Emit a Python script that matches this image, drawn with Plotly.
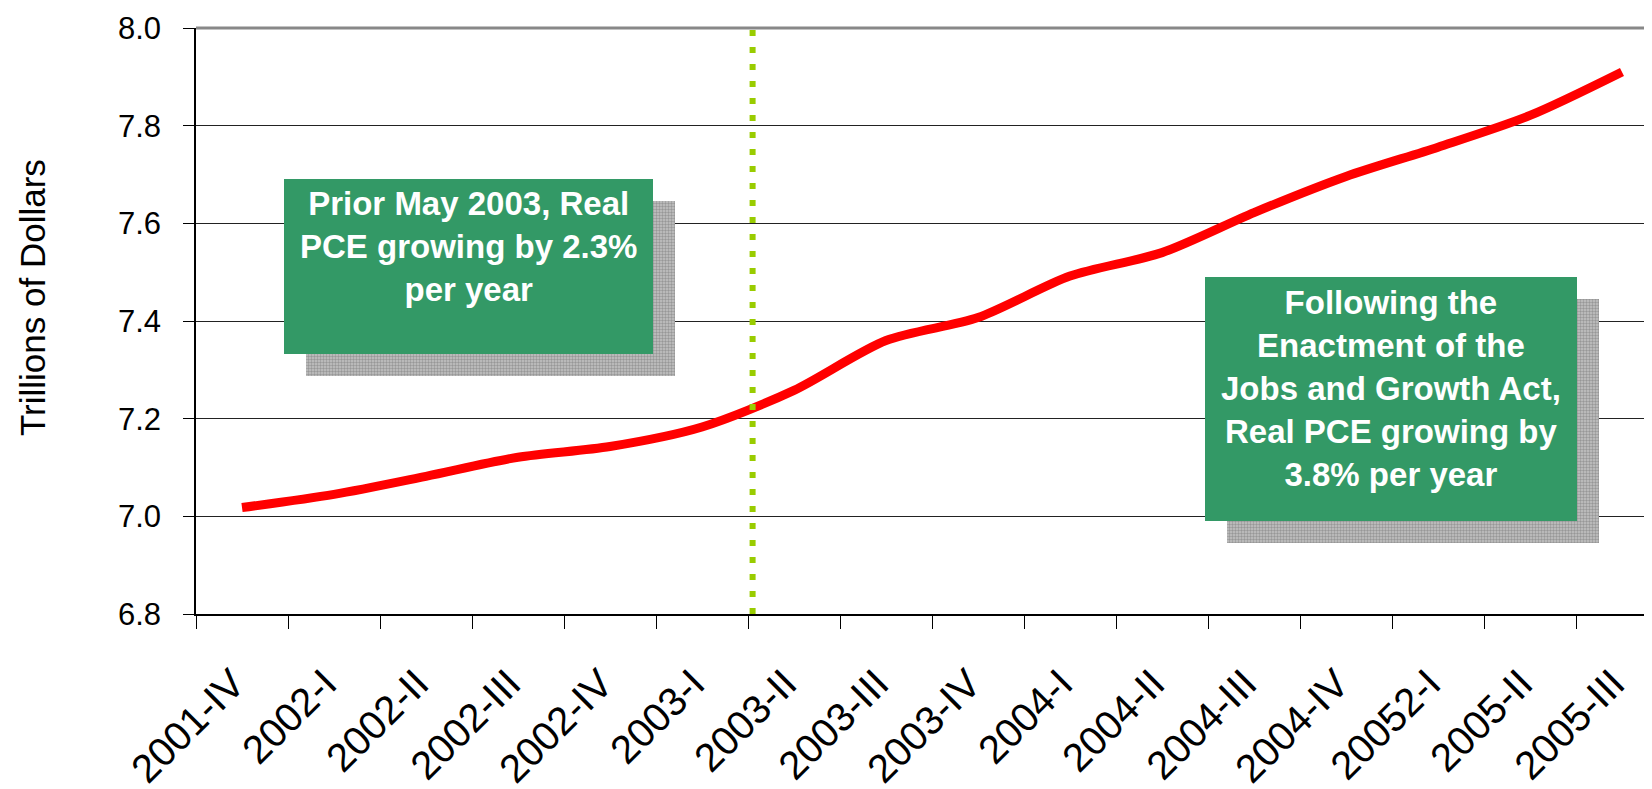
import plotly.graph_objects as go

# Real PCE, trillions of dollars, by quarter
quarters = [
    "2001-IV", "2002-I", "2002-II", "2002-III", "2002-IV", "2003-I",
    "2003-II", "2003-III", "2003-IV", "2004-I", "2004-II", "2004-III",
    "2004-IV", "20052-I", "2005-II", "2005-III",
]
pce = [
    7.018, 7.045, 7.082, 7.121, 7.143, 7.183,
    7.258, 7.360, 7.407, 7.492, 7.540, 7.622,
    7.696, 7.756, 7.821, 7.910,
]
y_ticks = [6.8, 7.0, 7.2, 7.4, 7.6, 7.8, 8.0]

note_before = "Prior May 2003, Real<br>PCE growing by 2.3%<br>per year"
note_after = ("Following the<br>Enactment of the<br>Jobs and Growth Act,"
              "<br>Real PCE growing by<br>3.8% per year")

W, H = 1652, 789
OFF = 8  # the page body adds an 8px margin around the figure
L, T, B = 196, 28, 614  # plot area in window pixels
FONT = "Arial, Liberation Sans, sans-serif"
GREEN = "#339966"


def px(x):
    return (x - L) / (W - L)


def py(y):
    return (B - y) / (B - T)


boxes = [(284, 179, 653, 354), (1205, 277, 1577, 521)]

fig = go.Figure()
fig.add_trace(
    go.Scatter(
        x=quarters,
        y=pce,
        mode="lines",
        line=dict(color="#ff0000", width=9, shape="spline", smoothing=0.8),
        showlegend=False,
        hoverinfo="skip",
    )
)

# stippled shadows behind the note boxes, drawn on a hidden 0-1 overlay
for (x0, y0, x1, y1) in boxes:
    sx0, sx1 = px(x0 + 22), px(x1 + 22)
    sy0, sy1 = py(y1 + 22), py(y0 + 22)
    fig.add_trace(
        go.Scatter(
            x=[sx0, sx1, sx1, sx0, sx0],
            y=[sy0, sy0, sy1, sy1, sy0],
            xaxis="x2",
            yaxis="y2",
            mode="lines",
            line=dict(width=0, color="#a0a0a0"),
            fill="toself",
            fillcolor="#b0b0b0",
            fillpattern=dict(shape=".", fgcolor="#6a6a6a", bgcolor="#c4c4c4",
                             size=3, solidity=0.5),
            showlegend=False,
            hoverinfo="skip",
        )
    )

shapes = []
for (x0, y0, x1, y1) in boxes:
    shapes.append(dict(type="rect", xref="paper", yref="paper",
                       x0=px(x0), x1=px(x1), y0=py(y1), y1=py(y0),
                       fillcolor=GREEN, line=dict(width=0), layer="above"))
# top border of the plot area
shapes.append(dict(type="line", xref="paper", yref="paper", x0=0, x1=1, y0=1, y1=1,
                   line=dict(color="#888888", width=3)))
# May 2003 marker
shapes.append(dict(type="line", xref="x", yref="paper", x0=5.55, x1=5.55, y0=0, y1=1,
                   line=dict(color="#99cc00", width=6, dash="6px,11px"), layer="above"))

fig.update_layout(
    width=W - OFF,
    height=H - OFF,
    margin=dict(l=L - OFF, r=0, t=T - OFF, b=H - B, autoexpand=False),
    paper_bgcolor="white",
    plot_bgcolor="white",
    font=dict(family=FONT, color="black"),
    shapes=shapes,
    xaxis2=dict(overlaying="x", range=[0, 1], visible=False, fixedrange=True),
    yaxis2=dict(overlaying="y", range=[0, 1], visible=False, fixedrange=True),
    annotations=[
        dict(text="<b>" + note_before + "</b>", xref="paper", yref="paper",
             x=px(468), y=py(246), showarrow=False,
             font=dict(size=33, color="white", family=FONT),
             xanchor="center", yanchor="middle"),
        dict(text="<b>" + note_after + "</b>", xref="paper", yref="paper",
             x=px(1391), y=py(389), showarrow=False,
             font=dict(size=33, color="white", family=FONT),
             xanchor="center", yanchor="middle"),
        dict(text="Trillions of Dollars", xref="paper", yref="paper",
             x=px(32), y=py(298), showarrow=False, textangle=-90,
             font=dict(size=35, color="black", family=FONT),
             xanchor="center", yanchor="middle"),
    ],
)

fig.update_xaxes(
    type="category",
    categoryorder="array",
    categoryarray=quarters,
    range=[-0.5, -0.5 + (W - L) / 92.0],
    tickson="boundaries",
    ticks="outside",
    ticklen=13,
    tickwidth=1,
    tickcolor="black",
    tickangle=-45,
    tickfont=dict(size=40, family=FONT, color="black"),
    ticklabelstandoff=28,
    ticklabelshift=-9,
    showline=True,
    linecolor="black",
    linewidth=2,
    showgrid=False,
    zeroline=False,
    automargin=False,
    fixedrange=True,
    selector=dict(overlaying=None),
)
fig.update_yaxes(
    range=[6.8, 8.0],
    tickmode="array",
    tickvals=y_ticks,
    ticktext=[f"{v:.1f}" for v in y_ticks],
    ticks="outside",
    ticklen=11,
    tickcolor="black",
    tickfont=dict(size=31, family=FONT, color="black"),
    ticklabelstandoff=16,
    showline=True,
    linecolor="black",
    linewidth=1.5,
    showgrid=True,
    gridcolor="#222222",
    gridwidth=1,
    zeroline=False,
    automargin=False,
    fixedrange=True,
    selector=dict(overlaying=None),
)

fig.write_html("out.html")
